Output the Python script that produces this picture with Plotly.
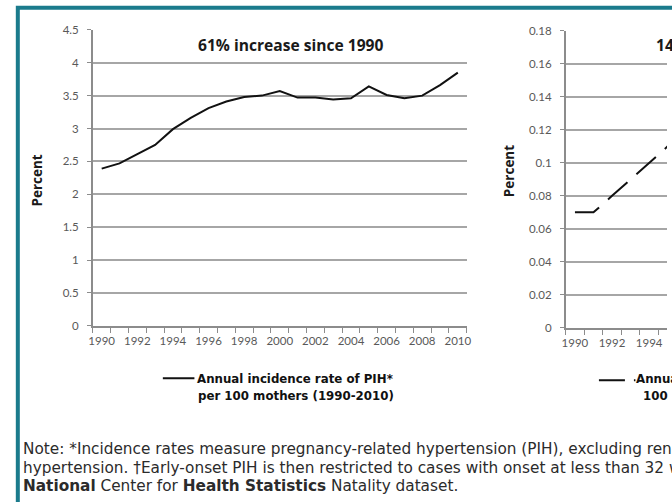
import plotly.graph_objects as go

# ---------------- data ----------------
years = list(range(1990, 2011))
pih_rate = [2.39, 2.47, 2.61, 2.75, 2.99, 3.16, 3.31, 3.41, 3.48, 3.50, 3.57,
            3.47, 3.47, 3.44, 3.46, 3.64, 3.51, 3.46, 3.50, 3.66, 3.85]

early_years = [1990, 1991, 1992, 1993, 1994, 1995]
early_rate = [0.070, 0.070, 0.080, 0.090, 0.100, 0.110]

left_ytick_vals = [0, 0.5, 1, 1.5, 2, 2.5, 3, 3.5, 4, 4.5]
left_ytick_text = ["0", "0.5", "1", "1.5", "2", "2.5", "3", "3.5", "4", "4.5"]
right_ytick_vals = [0, 0.02, 0.04, 0.06, 0.08, 0.10, 0.12, 0.14, 0.16, 0.18]
right_ytick_text = ["0", "0.02", "0.04", "0.06", "0.08", "0.1", "0.12", "0.14", "0.16", "0.18"]
xtick_vals = list(range(1990, 2011, 2))
xtick_text = [str(y) for y in xtick_vals]

title_left = "61% increase since 1990"
title_right = "143% increase since 1990"
legend_left = ["Annual incidence rate of PIH*", "per 100 mothers (1990-2010)"]
legend_right = ["Annual incidence rate of early-onset PIH† per", "100 mothers (1990-2010)"]
note_lines = [
    "Note: *Incidence rates measure pregnancy-related hypertension (PIH), excluding renal disease and chronic",
    "hypertension. †Early-onset PIH is then restricted to cases with onset at less than 32 weeks of gestation. Source:",
    "<b>National</b> Center for <b>Health Statistics</b> Natality dataset.",
]

# ---------------- layout helpers ----------------
W, H = 672, 502
# the captured page maps figure y to 7.2 + 0.973*y; compensate so marks land where the reference has them
Y_OFF, Y_SCALE = 7.2, 0.973
def px(x):
    return x / W
def py(y):
    return 1 - ((y - Y_OFF) / Y_SCALE) / H

FONT = "Lato, 'Open Sans', sans-serif"
TFONT = "'Open Sans', Lato, sans-serif"
NFONT = "'DejaVu Sans', 'Open Sans', sans-serif"
GRID = "#a6a6a6"
AXIS = "#8c8c8c"
TICKFONT = dict(family=FONT, size=11.5, color="#595959")

fig = go.Figure()

fig.add_trace(go.Scatter(
    x=years, y=pih_rate, mode="lines",
    line=dict(color="#111111", width=2),
    xaxis="x", yaxis="y", showlegend=False,
))
fig.add_trace(go.Scatter(
    x=early_years, y=early_rate, mode="lines",
    line=dict(color="#111111", width=2, dash="26px,12px"),
    xaxis="x2", yaxis="y2", showlegend=False,
))

common_x = dict(
    tickmode="array", tickvals=xtick_vals, ticktext=xtick_text,
    ticks="", showgrid=False, zeroline=False,
    showline=True, linecolor=AXIS, linewidth=1.5,
    tickfont=TICKFONT, ticklabelstandoff=4,
    minor=dict(ticks="outside", ticklen=5, tick0=1989.5, dtick=1,
               tickcolor=AXIS, tickwidth=1.2, showgrid=False),
)
common_y = dict(
    tickmode="array", ticks="outside", ticklen=4, tickcolor=AXIS, tickwidth=1.2,
    showgrid=True, gridcolor=GRID, gridwidth=1.6, zeroline=False,
    showline=True, linecolor=AXIS, linewidth=1.5,
    tickfont=TICKFONT, ticklabelstandoff=6,
)

fig.update_layout(
    width=W, height=H,
    margin=dict(l=0, r=0, t=0, b=0),
    paper_bgcolor="white", plot_bgcolor="white",
    font=dict(family=FONT, color="#000000"),
    xaxis=dict(domain=[px(90), px(469)], range=[1989.5, 2010.5], anchor="y", **common_x),
    yaxis=dict(domain=[py(325.7), py(30)], range=[0, 4.5], anchor="x",
               tickvals=left_ytick_vals, ticktext=left_ytick_text, **common_y),
    xaxis2=dict(domain=[px(569.3), 1], range=[1989.5, 1989.5 + (672 - 569.3) / 18.8],
                anchor="y2", **common_x),
    yaxis2=dict(domain=[py(327.7), py(31)], range=[0, 0.18], anchor="x2",
                tickvals=right_ytick_vals, ticktext=right_ytick_text, **common_y),
)

ann = []
TITLEFONT = dict(family=TFONT, size=15.6, color="#1a1a1a")
ann.append(dict(text="<b>" + title_left + "</b>", x=px(290), y=py(45), xref="paper", yref="paper",
                xanchor="center", yanchor="middle", showarrow=False, font=TITLEFONT))
ann.append(dict(text="<b>" + title_right + "</b>", x=px(659), y=py(45), xref="paper", yref="paper",
                xanchor="left", yanchor="middle", showarrow=False, font=TITLEFONT))
# axis titles
AXTFONT = dict(family=TFONT, size=13.5, color="#1a1a1a")
ann.append(dict(text="<b>Percent</b>", x=px(33), y=py(181), xref="paper", yref="paper",
                textangle=-90, xanchor="center", yanchor="middle", showarrow=False, font=AXTFONT))
ann.append(dict(text="<b>Percent</b>", x=px(512), y=py(171), xref="paper", yref="paper",
                textangle=-90, xanchor="center", yanchor="middle", showarrow=False, font=AXTFONT))
# legends
LEGFONT = dict(family=NFONT, size=11.8, color="#111111")
ann.append(dict(text="<b>" + legend_left[0] + "</b>", x=px(295), y=py(379), xref="paper", yref="paper",
                xanchor="center", yanchor="middle", showarrow=False, font=LEGFONT))
ann.append(dict(text="<b>" + legend_left[1] + "</b>", x=px(295.5), y=py(396), xref="paper", yref="paper",
                xanchor="center", yanchor="middle", showarrow=False, font=LEGFONT))
ann.append(dict(text="<b>" + legend_right[0] + "</b>", x=px(639), y=py(379), xref="paper", yref="paper",
                xanchor="left", yanchor="middle", showarrow=False, font=LEGFONT))
ann.append(dict(text="<b>" + legend_right[1] + "</b>", x=px(646), y=py(396), xref="paper", yref="paper",
                xanchor="left", yanchor="middle", showarrow=False, font=LEGFONT))
# note
for i, line in enumerate(note_lines):
    ann.append(dict(text=line, x=px(17), y=py(449 + 18.5 * i), xref="paper", yref="paper",
                    xanchor="left", yanchor="middle", showarrow=False,
                    font=dict(family=NFONT, size=15.3, color="#2b2b2b")))
fig.update_layout(annotations=ann)

shapes = [
    # frame
    dict(type="rect", xref="paper", yref="paper", x0=px(14), x1=px(720), y0=py(530), y1=py(8),
         line=dict(color="#1b7b8c", width=4), fillcolor="rgba(0,0,0,0)", layer="above"),
    # legend samples
    dict(type="line", xref="paper", yref="paper", x0=px(161), x1=px(193), y0=py(378), y1=py(378),
         line=dict(color="#111111", width=2)),
    dict(type="line", xref="paper", yref="paper", x0=px(603), x1=px(640), y0=py(380), y1=py(380),
         line=dict(color="#111111", width=2, dash="26px,9px,2px,20px")),
]
fig.update_layout(shapes=shapes)

post = (
    "document.documentElement.style.margin='0';"
    "document.documentElement.style.overflow='hidden';"
    "document.body.style.margin='0';"
    "document.body.style.overflow='hidden';"
)
fig.write_html("out.html", config={"displayModeBar": False}, post_script=post)
